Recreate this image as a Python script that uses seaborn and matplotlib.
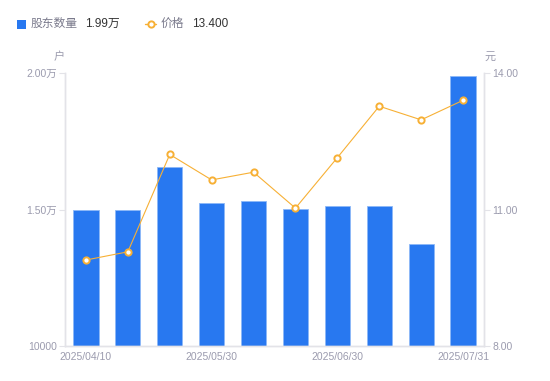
import numpy as np
import pandas as pd
import matplotlib.pyplot as plt
import seaborn as sns

# data
dates = ['2025/04/10', '2025/04/18', '2025/04/30', '2025/05/30', '2025/06/10',
         '2025/06/20', '2025/06/30', '2025/07/10', '2025/07/18', '2025/07/31']
holders = [14970, 14990, 16560, 15250, 15310, 15020, 15120, 15120, 13750, 19900]
price = [9.89, 10.07, 12.21, 11.65, 11.82, 11.03, 12.14, 13.27, 12.97, 13.40]
left_ticks = [10000, 15000, 20000]
left_labels = ['10000', '1.50万', '2.00万']
right_ticks = [8.0, 11.0, 14.0]
shown_dates = ['2025/04/10', '2025/05/30', '2025/06/30', '2025/07/31']

sns.set_style('white')
plt.rcParams['font.family'] = ['Liberation Sans', 'Noto Sans CJK SC', 'DejaVu Sans']

blue = '#2878F0'
orange = '#F7B035'
grey = '#9B9BAE'
axis_c = '#E3E3E8'

df = pd.DataFrame({'date': dates, 'holders': holders, 'price': price})
df['pos'] = np.arange(len(df))

fig = plt.figure(figsize=(5.5, 3.81), dpi=100)
ax = fig.add_axes([65 / 550, 1 - 346 / 381, 419 / 550, 273 / 381])

sns.barplot(data=df, x='date', y='holders', ax=ax, color=blue, width=0.6,
            saturation=1, edgecolor='#8DB8F7', linewidth=0.6)
ax.set_ylim(10000, 20000)
ax.set_xlim(-0.5, len(df) - 0.5)
ax.set_yticks(left_ticks)
ax.set_yticklabels(left_labels)
ax.set_xticks([dates.index(d) for d in shown_dates])
ax.set_xticklabels(shown_dates)
ax.set_xlabel('')
ax.set_ylabel('')

ax2 = ax.twinx()
sns.lineplot(data=df, x='pos', y='price', ax=ax2, color=orange, linewidth=0.8,
             marker='o', markersize=4.5, markerfacecolor='white',
             markeredgecolor=orange, markeredgewidth=1.4)
ax2.set_ylim(8, 14)
ax2.set_yticks(right_ticks)
ax2.set_yticklabels([f'{v:.2f}' for v in right_ticks])
ax2.set_xlabel('')
ax2.set_ylabel('')
ax2.set_xlim(-0.5, len(df) - 0.5)

for a in (ax, ax2):
    a.spines['top'].set_visible(False)
    for s in ('left', 'right', 'bottom'):
        a.spines[s].set_color(axis_c)
        a.spines[s].set_linewidth(1)
ax.tick_params(axis='y', colors=grey, labelsize=7.5, length=4, width=0.8, pad=2,
               color=axis_c, left=True)
ax.tick_params(axis='x', colors=grey, labelsize=7.5, length=0, pad=4)
ax2.tick_params(axis='y', colors=grey, labelsize=7.5, length=4, width=0.8, pad=2,
                color=axis_c, right=True)

# units
fig.text(59 / 550, 1 - 57 / 381, '户', color=grey, fontsize=8, ha='center', va='center')
fig.text(490 / 550, 1 - 57 / 381, '元', color=grey, fontsize=8, ha='center', va='center')

# legend row
ly = 1 - 24 / 381
fig.patches.append(plt.Rectangle((17 / 550, 1 - 29 / 381), 9 / 550, 9 / 381,
                                 transform=fig.transFigure, color=blue, lw=0))
fig.text(31 / 550, ly, '股东数量', color='#7A7A8C', fontsize=8.5, va='center')
fig.text(85 / 550, ly, '1.99万', color='#333333', fontsize=8.5, va='center')
fig.lines.append(plt.Line2D([145 / 550, 156 / 550], [ly, ly], transform=fig.transFigure,
                            color=orange, lw=1))
fig.lines.append(plt.Line2D([150.5 / 550], [ly], transform=fig.transFigure, color=orange,
                            marker='o', markersize=4.5, markerfacecolor='white',
                            markeredgewidth=1.4))
fig.text(161 / 550, ly, '价格', color='#7A7A8C', fontsize=8.5, va='center')
fig.text(192 / 550, ly, '13.400', color='#333333', fontsize=8.5, va='center')

plt.savefig('out.png', dpi=100)
